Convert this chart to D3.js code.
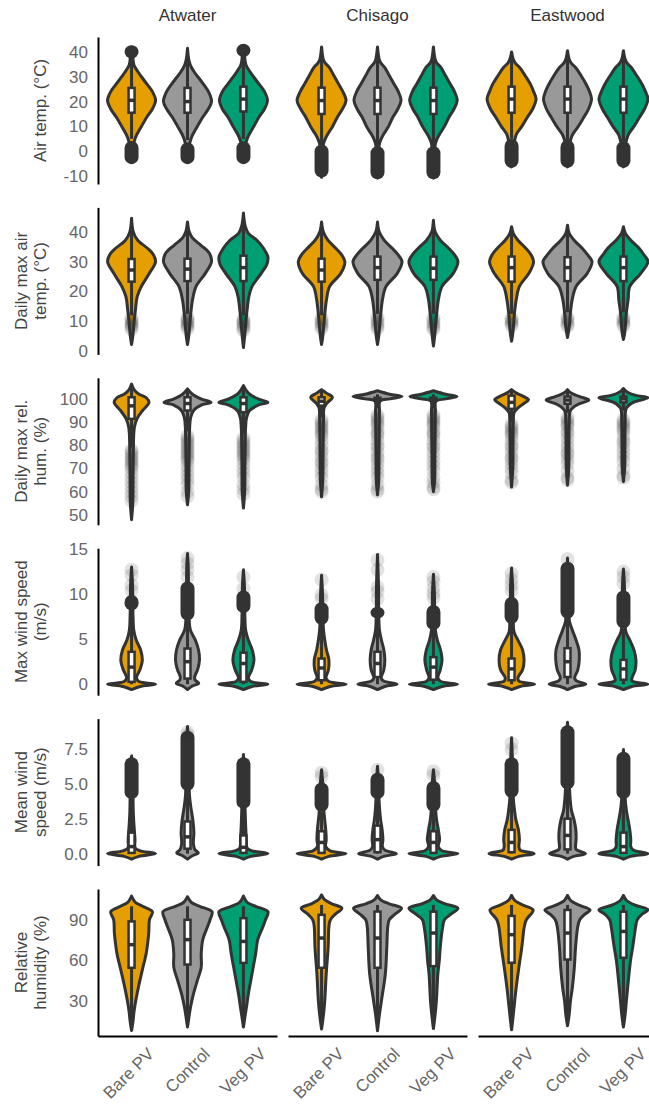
<!DOCTYPE html>
<html>
<head>
<meta charset="utf-8">
<script src="https://cdn.jsdelivr.net/npm/d3@7"></script>
<style>
  body { margin: 0; background: #fff; }
  svg { display: block; }
</style>
</head>
<body>
<svg id="chart" width="649" height="1106"></svg>
<script>
// ---- data ----
const sites = ["Atwater", "Chisago", "Eastwood"];
const treatments = ["Bare PV", "Control", "Veg PV"];

const rowTitles = [
  ["Air temp. (°C)"],
  ["Daily max air", "temp. (°C)"],
  ["Daily max rel.", "hum. (%)"],
  ["Max wind speed", "(m/s)"],
  ["Mean wind", "speed (m/s)"],
  ["Relative", "humidity (%)"]
];
const rowDomains = [[-13.2, 46], [-1.1, 48.2], [45.7, 109.1], [-1.22, 15.1], [-0.86, 9.67], [4, 112.8]];
const rowTicks = [[-10, 0, 10, 20, 30, 40], [0, 10, 20, 30, 40], [50, 60, 70, 80, 90, 100],
                  [0, 5, 10, 15], [0, 2.5, 5, 7.5], [30, 60, 90]];
const rowDecimals = [0, 0, 0, 0, 1, 0];

// violin profiles: [value, relative width], order Atwater(B,C,V), Chisago(B,C,V), Eastwood(B,C,V)
const airTempViolins = [
  [[-4.5,0],[-2,0.05],[2,0.07],[5.5,0.16],[9.6,0.38],[13.7,0.62],[17,0.85],[20.5,0.98],[24,0.85],[27,0.63],[30,0.4],[32,0.26],[34.6,0.1],[37,0.06],[40,0.04],[42,0]],
  [[-4.5,0],[-2,0.05],[2,0.07],[5.5,0.16],[9.6,0.38],[13.7,0.62],[17,0.85],[20,0.98],[23.5,0.88],[27,0.65],[30,0.42],[32,0.27],[34.6,0.12],[37,0.05],[41.5,0]],
  [[-4.5,0],[-2,0.05],[2,0.07],[5.5,0.17],[9.6,0.4],[13.7,0.63],[17,0.86],[20.5,0.98],[24,0.86],[27,0.64],[30,0.41],[32,0.27],[34.6,0.11],[37,0.06],[40,0.04],[42.5,0]],
  [[-10.5,0],[-6,0.04],[0,0.05],[3,0.08],[5,0.15],[7,0.26],[10,0.45],[13.6,0.64],[17,0.85],[20.4,1],[24,0.87],[27,0.7],[30.5,0.5],[33.7,0.32],[35.5,0.15],[37,0.07],[42,0]],
  [[-10.8,0],[-6,0.04],[0,0.05],[3,0.08],[5,0.15],[7,0.26],[10,0.45],[13.6,0.62],[17,0.83],[20.4,0.96],[24,0.85],[27,0.68],[30.5,0.48],[33.7,0.3],[35.5,0.14],[37,0.07],[42,0]],
  [[-10.8,0],[-6,0.04],[0,0.05],[3,0.08],[5,0.15],[7,0.26],[10,0.45],[13.6,0.63],[17,0.84],[20.4,0.97],[24,0.86],[27,0.69],[30.5,0.49],[33.7,0.31],[35.5,0.14],[37,0.07],[42,0]],
  [[-6.3,0],[-3,0.05],[2,0.07],[5,0.14],[6.9,0.2],[10,0.42],[13.6,0.64],[17,0.86],[21,1],[24,0.9],[27,0.77],[30.5,0.55],[33.7,0.33],[35.5,0.15],[37,0.07],[40,0]],
  [[-6.3,0],[-3,0.05],[2,0.07],[5,0.14],[6.9,0.22],[10,0.44],[13.6,0.66],[17,0.86],[21,0.98],[24,0.9],[27,0.76],[30.5,0.55],[33.7,0.33],[35.5,0.15],[37,0.07],[40.5,0]],
  [[-6.3,0],[-3,0.05],[2,0.07],[5,0.14],[6.9,0.21],[10,0.43],[13.6,0.65],[17,0.86],[21,1],[24,0.9],[27,0.76],[30.5,0.54],[33.7,0.32],[35.5,0.15],[37,0.07],[40.5,0]]
];
// [lower whisker, q1, median, q3, upper whisker]
const airTempBoxes = [
  [5, 15.5, 20.5, 25.5, 36.5], [4.5, 15.5, 20, 25.5, 41.5], [5, 16, 21, 26, 37],
  [2.5, 15, 20.4, 25.6, 42], [2.3, 15, 20.4, 25.6, 42], [2, 15, 20.4, 25.6, 42],
  [5, 15.5, 21, 26, 40], [4.5, 15.5, 21, 26, 40.5], [4, 15.5, 21, 26, 40.5]
];
// value ranges densely covered by outliers
const airTempBands = [
  [[-5.2, 4.1], [37.4, 42.7]], [[-5.2, 3.5]], [[-5.2, 4], [38, 43.3]],
  [[-10.6, 2.7]], [[-11.3, 2]], [[-11.3, 2]],
  [[-6.7, 4.9]], [[-6.7, 4.5]], [[-6.7, 4]]
];
const airTempPoints = [[], [], [], [], [], [], [], [], []];

const maxAirViolins = [
  [[2.2,0],[5,0.05],[9.6,0.1],[13.9,0.16],[18.3,0.23],[21.7,0.4],[26,0.72],[30,0.98],[32.5,0.88],[34.5,0.65],[37.2,0.25],[40,0.07],[44.6,0]],
  [[2.2,0],[5,0.05],[9.6,0.1],[13.9,0.15],[17,0.2],[21.7,0.35],[26,0.72],[30,0.98],[33,0.88],[35.5,0.55],[38,0.2],[40,0.07],[43.3,0]],
  [[1.2,0],[5,0.05],[9.6,0.1],[13.9,0.15],[18.3,0.22],[21.7,0.35],[26,0.72],[29,0.95],[31.5,1],[34.5,0.82],[37.2,0.55],[39.5,0.2],[42,0.07],[46.3,0]],
  [[2.2,0],[5,0.05],[9.6,0.1],[13.9,0.15],[17.2,0.2],[21.7,0.33],[26,0.78],[30,0.95],[32.5,0.8],[34.5,0.58],[37.2,0.26],[40,0.07],[43.3,0]],
  [[2.2,0],[5,0.05],[9.6,0.1],[13.9,0.15],[17.2,0.2],[21.7,0.35],[26,0.8],[30,1],[32.5,0.82],[34.5,0.6],[37.2,0.27],[40,0.07],[43.3,0]],
  [[1.7,0],[5,0.05],[9.6,0.1],[13.9,0.15],[17.2,0.2],[21.7,0.35],[26,0.8],[30,1],[32.5,0.84],[34.5,0.62],[37.2,0.28],[40,0.07],[43.9,0]],
  [[3.3,0],[6,0.05],[9.6,0.09],[12.9,0.12],[17.2,0.19],[21.7,0.32],[26,0.7],[30,0.9],[32.5,0.78],[34.5,0.58],[37.2,0.26],[39.5,0.07],[41.7,0]],
  [[4.6,0],[7,0.05],[9.6,0.09],[12.9,0.12],[17.2,0.19],[21.7,0.35],[26,0.8],[30,1],[32.5,0.8],[34.5,0.6],[37.2,0.27],[39.5,0.07],[42.2,0]],
  [[3.9,0],[6,0.05],[9.6,0.09],[12.9,0.12],[17.2,0.19],[21.7,0.26],[26,0.7],[30,1],[32.5,0.82],[34.5,0.64],[37.2,0.3],[39.5,0.08],[41.7,0]]
];
const maxAirBoxes = [
  [12, 23.3, 27.2, 30.9, 42], [12.5, 23.5, 27.5, 31, 42.5], [12, 23.5, 28, 32, 45],
  [12, 23.3, 27.2, 31, 43], [12.5, 23.9, 28, 31.7, 43], [12.5, 23.9, 27.8, 31.7, 43.5],
  [12.5, 23.3, 28, 31.7, 41.7], [13, 23.5, 28, 31.5, 42.2], [13, 23.5, 28, 31.7, 41.7]
];
const maxAirBands = [[], [], [], [], [], [], [], [], []];
const maxAirPoints = [
  [7.3, 8, 8.6, 9.2, 9.8, 10.4, 11], [7.5, 8.2, 8.8, 9.4, 10, 10.6, 11.2], [7, 7.7, 8.3, 9, 9.6, 10.2, 10.8],
  [7.5, 8.3, 9, 9.7, 10.4, 11.2], [7.5, 8.2, 9, 9.8, 10.6, 11.4], [7.3, 8, 8.8, 9.6, 10.4, 11.2],
  [8.5, 9.2, 9.8, 10.4, 11], [8.3, 9, 9.8, 10.6, 11.3], [8.5, 9.2, 9.9, 10.6, 11.3]
];

const maxRhViolins = [
  [[47.9,0],[55,0.05],[65,0.06],[75,0.07],[85,0.09],[88,0.12],[91.4,0.22],[95,0.45],[98.5,0.71],[100.5,0.6],[102.1,0.29],[104,0.1],[106.4,0]],
  [[54.3,0],[60,0.05],[70,0.06],[80,0.07],[88,0.09],[92,0.13],[95,0.25],[97.5,0.6],[98.5,0.96],[100,0.55],[102,0.2],[104.3,0]],
  [[52.9,0],[60,0.05],[70,0.06],[80,0.07],[88,0.09],[92,0.13],[95,0.25],[97.5,0.65],[98.5,1],[100,0.6],[102.5,0.2],[105.7,0]],
  [[57.8,0],[65,0.05],[75,0.06],[85,0.07],[92,0.08],[96,0.1],[98,0.2],[100.7,0.44],[102.5,0.2],[104,0]],
  [[58.6,0],[65,0.05],[75,0.06],[85,0.07],[95,0.08],[99,0.1],[100,0.5],[101,1],[102,0.5],[103.5,0]],
  [[60,0],[65,0.05],[75,0.06],[85,0.07],[95,0.08],[99,0.1],[100,0.5],[101,0.96],[102,0.5],[103.5,0]],
  [[62,0],[70,0.05],[80,0.06],[90,0.07],[94,0.1],[96,0.25],[98,0.5],[99.6,0.69],[101,0.5],[102.5,0.2],[104,0]],
  [[62.8,0],[70,0.05],[80,0.06],[90,0.07],[95,0.12],[97.5,0.4],[99.5,0.87],[101,0.5],[102.5,0.15],[104,0]],
  [[64.3,0],[70,0.05],[80,0.06],[90,0.07],[96,0.12],[98.5,0.4],[100.5,1],[101.5,0.5],[103,0.15],[104.5,0]]
];
const maxRhBoxes = [
  [79, 91.4, 97, 100.7, 106], [86, 95, 98, 100.7, 104], [85, 94.3, 98, 100.7, 105],
  [92, 97.1, 99, 100.7, 104], [96, 99.3, 100, 100.5, 102], [96, 99.3, 100, 100.5, 102],
  [90, 95.7, 98.5, 101.4, 104], [94, 97.9, 99.5, 101, 104], [95, 98.5, 100, 101, 104.5]
];
const maxRhBands = [[], [], [], [], [], [], [], [], []];
const maxRhPoints = [
  [56, 58, 60, 62, 64, 66, 68, 70, 71, 72, 73, 74, 75, 76, 77, 78],
  [58, 60, 63, 65, 67, 69, 71, 73, 74, 75, 76, 77, 78, 79, 80, 81, 82, 83, 84],
  [59, 61, 63, 66, 68, 70, 72, 74, 75, 76, 77, 78, 79, 80, 81, 82, 83],
  [60, 61, 63, 66, 68, 70, 72, 73, 75, 77, 78, 80, 82, 84, 85, 86, 87, 88, 89, 90, 91],
  [60, 61, 63, 66, 68, 70, 72, 74, 75, 77, 79, 80, 82, 84, 85, 86, 88, 89, 90, 91, 92, 93],
  [61, 62, 64, 66, 69, 71, 73, 75, 77, 79, 80, 82, 84, 85, 86, 88, 89, 90, 91, 92, 93],
  [64, 65, 68, 70, 72, 74, 75, 77, 79, 80, 82, 84, 85, 86, 87, 88, 89],
  [65, 66, 69, 72, 74, 76, 77, 79, 81, 83, 85, 86, 88, 89, 90, 91, 92],
  [66, 67, 70, 73, 75, 77, 79, 81, 82, 84, 86, 87, 88, 89, 90, 91]
];

const maxWindViolins = [
  [[-0.6,0],[-0.25,0.35],[0,0.98],[0.3,0.3],[0.7,0.2],[1.6,0.34],[2.7,0.44],[3.8,0.37],[4.9,0.19],[6,0.09],[7.5,0.06],[9,0.05],[11,0.04],[13,0]],
  [[-0.6,0],[-0.2,0.2],[0.1,0.46],[0.5,0.3],[0.9,0.3],[1.6,0.41],[2.7,0.49],[3.8,0.45],[4.9,0.32],[6,0.12],[7,0.07],[9,0.05],[11,0.04],[13,0.03],[14.5,0]],
  [[-0.6,0],[-0.25,0.35],[0,1],[0.3,0.3],[0.7,0.2],[1.6,0.34],[2.7,0.43],[3.8,0.36],[4.9,0.2],[6,0.09],[7.5,0.06],[9,0.05],[11,0.04],[12.7,0]],
  [[-0.6,0],[-0.25,0.35],[0,1],[0.3,0.3],[0.7,0.18],[1.6,0.28],[2.7,0.3],[3.8,0.2],[4.9,0.13],[6,0.08],[8,0.05],[10,0.04],[12.1,0]],
  [[-0.6,0],[-0.25,0.3],[0,0.8],[0.35,0.25],[0.7,0.15],[1.6,0.26],[2.7,0.3],[3.8,0.26],[4.9,0.16],[6,0.08],[8,0.05],[11,0.04],[14.4,0]],
  [[-0.6,0],[-0.25,0.35],[0,0.98],[0.3,0.3],[0.7,0.18],[1.6,0.28],[2.7,0.35],[3.8,0.29],[4.9,0.16],[6,0.08],[8,0.05],[10,0.04],[12.2,0]],
  [[-0.6,0],[-0.25,0.35],[0,0.94],[0.35,0.3],[0.7,0.26],[1.6,0.45],[2.7,0.51],[3.8,0.45],[4.9,0.26],[5.8,0.1],[7,0.07],[9,0.05],[11,0.04],[12.9,0]],
  [[-0.6,0],[-0.25,0.3],[0,0.75],[0.4,0.35],[0.7,0.29],[1.6,0.42],[2.7,0.48],[3.8,0.47],[4.9,0.35],[6,0.2],[7,0.08],[9,0.06],[11,0.05],[14,0]],
  [[-0.6,0],[-0.25,0.35],[0,1],[0.35,0.35],[0.7,0.35],[1.6,0.48],[2.7,0.51],[3.8,0.43],[4.9,0.26],[5.8,0.1],[7,0.07],[9,0.05],[11,0.04],[12.8,0]]
];
const maxWindBoxes = [
  [0, 0.26, 1.9, 3.6, 8.2], [0, 0.63, 2.5, 3.96, 7.1], [0, 0.26, 2.3, 3.5, 7.9],
  [0, 0.44, 1.8, 2.85, 6.6], [0, 0.8, 2.3, 3.6, 7.3], [0, 0.5, 1.9, 3.0, 6],
  [0, 0.44, 1.7, 2.85, 6.7], [0, 0.8, 2.5, 4.0, 7.3], [0, 0.5, 1.7, 2.7, 6.2]
];
const maxWindBands = [
  [[8.2, 9.9]], [[7.1, 11.4]], [[7.9, 10.4]],
  [[6.6, 9.1]], [[7.3, 8.6]], [[6, 8.8]],
  [[6.7, 9.7]], [[7.3, 13.6]], [[6.2, 10.4]]
];
const maxWindPoints = [
  [10.4, 11, 12.1, 12.7], [11.9, 12.7, 13.4, 14], [10.6, 11.9],
  [9.5, 9.9, 11.6], [9.5, 10.3, 10.8, 12.7, 13.8], [9.6, 10.1, 10.7, 11.4, 11.9],
  [10.4, 11, 11.6, 12.3], [13.9], [11.2, 11.9, 12.5]
];

const meanWindViolins = [
  [[-0.4,0],[-0.2,0.3],[0,0.98],[0.2,0.35],[0.4,0.15],[1,0.14],[2,0.1],[3,0.07],[4,0.06],[5.5,0.05],[7,0]],
  [[-0.4,0],[-0.15,0.2],[0.05,0.44],[0.3,0.3],[0.7,0.24],[1.5,0.26],[2.4,0.22],[3.4,0.13],[4.2,0.08],[6,0.06],[8,0.04],[9.1,0]],
  [[-0.4,0],[-0.2,0.3],[0,1],[0.2,0.35],[0.4,0.15],[1,0.12],[2,0.09],[3,0.07],[4,0.06],[5.5,0.05],[7.1,0]],
  [[-0.4,0],[-0.2,0.3],[0,1],[0.2,0.35],[0.5,0.17],[1,0.19],[1.7,0.17],[2.4,0.13],[3.1,0.09],[4,0.06],[5,0.05],[6,0]],
  [[-0.4,0],[-0.2,0.25],[0,0.77],[0.25,0.3],[0.5,0.2],[1,0.22],[1.7,0.19],[2.4,0.13],[3.1,0.09],[4,0.06],[5,0.05],[6.25,0]],
  [[-0.4,0],[-0.2,0.3],[0,1],[0.2,0.35],[0.5,0.2],[1,0.25],[1.7,0.2],[2.4,0.13],[3.1,0.09],[4,0.06],[5,0.05],[6,0]],
  [[-0.4,0],[-0.2,0.3],[0,0.92],[0.25,0.35],[0.5,0.3],[1,0.32],[1.7,0.28],[2.4,0.18],[3.1,0.12],[4,0.07],[6,0.05],[8.3,0]],
  [[-0.4,0],[-0.2,0.25],[0,0.73],[0.3,0.35],[0.6,0.33],[1,0.35],[1.7,0.34],[2.4,0.27],[3.1,0.16],[4.1,0.1],[6,0.06],[8,0.05],[9.4,0]],
  [[-0.4,0],[-0.2,0.3],[0,1],[0.25,0.4],[0.5,0.3],[1,0.3],[1.7,0.26],[2.4,0.19],[3.1,0.12],[4,0.07],[6,0.05],[7.45,0]]
];
const meanWindBoxes = [
  [0, 0.05, 0.5, 1.5, 3.8], [0, 0.35, 1.2, 2.3, 4.5], [0, 0.05, 0.45, 1.3, 3.2],
  [0, 0.05, 0.8, 1.6, 3.0], [0, 0.1, 1.0, 2.0, 3.8], [0, 0.05, 0.8, 1.6, 3.0],
  [0, 0.1, 0.8, 1.7, 4.0], [0, 0.3, 1.3, 2.5, 4.6], [0, 0.05, 0.5, 1.5, 3.9]
];
const meanWindBands = [
  [[3.9, 6.9]], [[4.5, 8.8]], [[3.2, 6.9]],
  [[3.0, 5.1]], [[3.9, 5.8]], [[3.0, 5.2]],
  [[4.0, 6.9]], [[4.6, 9.2]], [[3.9, 7.3]]
];
const meanWindPoints = [
  [], [8.5, 8.7], [],
  [5.5, 5.8], [6.0], [5.6, 5.9],
  [7.45, 7.9], [], []
];

const rhViolins = [
  [[8,0],[15,0.06],[22,0.1],[29,0.16],[41,0.29],[53,0.44],[65.5,0.6],[80,0.7],[90,0.73],[96,0.85],[100,0.45],[103,0.15],[107.6,0]],
  [[10.6,0],[18,0.06],[25,0.12],[35,0.24],[45,0.4],[55,0.56],[65,0.56],[75,0.62],[85,0.82],[90,0.92],[96,1],[100,0.5],[103,0.15],[107.1,0]],
  [[10.6,0],[18,0.06],[25,0.12],[35,0.2],[45,0.3],[55,0.4],[65,0.5],[75,0.58],[85,0.8],[90,0.9],[96,1],[100,0.5],[103,0.15],[107.6,0]],
  [[9.2,0],[20,0.08],[30,0.13],[50,0.19],[70,0.27],[85,0.3],[90,0.36],[94,0.55],[98.6,0.83],[102,0.4],[105,0.12],[108.4,0]],
  [[7.9,0],[20,0.08],[30,0.16],[50,0.32],[70,0.38],[85,0.42],[90,0.48],[94,0.7],[98.6,0.98],[102,0.45],[105,0.12],[108,0]],
  [[9.5,0],[20,0.07],[30,0.12],[50,0.18],[60,0.24],[70,0.28],[85,0.38],[90,0.45],[94,0.7],[98.6,1],[102,0.45],[105,0.12],[108,0]],
  [[8.6,0],[18,0.06],[25,0.1],[40,0.19],[55,0.3],[70,0.42],[85,0.52],[90,0.6],[97.3,0.88],[101,0.45],[104.5,0.12],[108,0]],
  [[11.6,0],[20,0.07],[30,0.12],[40,0.2],[55,0.28],[70,0.33],[85,0.42],[90,0.5],[94,0.7],[97.3,0.92],[101,0.45],[104.5,0.12],[108,0]],
  [[10.6,0],[20,0.07],[30,0.12],[45,0.2],[60,0.29],[70,0.38],[85,0.5],[90,0.56],[94,0.75],[97.5,1],[101,0.45],[104.5,0.12],[108,0]]
];
const rhBoxes = [
  [8, 54.5, 71.6, 88.8, 100], [10.6, 56.9, 75.3, 90, 100], [10.6, 58.1, 74, 91.2, 100],
  [9.2, 54.5, 76.5, 93.7, 101], [7.9, 54.5, 76.5, 96.1, 101], [9.5, 55.7, 80.2, 96, 101],
  [8.6, 58.2, 79, 92.9, 101], [11.6, 60.6, 80.2, 97.3, 101], [10.6, 61.9, 81.4, 96, 101]
];
const rhBands = [[], [], [], [], [], [], [], [], []];
const rhPoints = [[], [], [], [], [], [], [], [], []];

// ---- layout ----
const svg = d3.select("#chart");
const font = "'Liberation Sans', Arial, Helvetica, sans-serif";
const fills = ["#E69F00", "#999999", "#009E73"];
const dark = "#333333";
const panelLeft = 98, panelStep = 190, panelW = 179;
const rowTop0 = 37, rowStep = 170.4, rowH = 147;
const ptR = 7;
const lineW = 3;

const wScale = d3.scaleLinear().domain([0, 1]).range([0, 24.5]);

const rowSets = [
  [airTempViolins, airTempBoxes, airTempBands, airTempPoints],
  [maxAirViolins, maxAirBoxes, maxAirBands, maxAirPoints],
  [maxRhViolins, maxRhBoxes, maxRhBands, maxRhPoints],
  [maxWindViolins, maxWindBoxes, maxWindBands, maxWindPoints],
  [meanWindViolins, meanWindBoxes, meanWindBands, meanWindPoints],
  [rhViolins, rhBoxes, rhBands, rhPoints]
];

// facet headers
sites.forEach((site, s) => {
  svg.append("text")
    .attr("x", panelLeft + s * panelStep + panelW / 2)
    .attr("y", 21)
    .attr("text-anchor", "middle")
    .attr("font-family", font)
    .attr("font-size", 17)
    .attr("fill", "#333")
    .text(site);
});

rowSets.forEach(([violins, boxes, bands, points], r) => {
  const top = rowTop0 + r * rowStep;
  const y = d3.scaleLinear().domain(rowDomains[r]).range([top + rowH, top]);

  // y axis (first column only)
  const ax = svg.append("g")
    .attr("transform", `translate(${panelLeft},0)`)
    .call(d3.axisLeft(y)
      .tickValues(rowTicks[r])
      .tickFormat(d => d.toFixed(rowDecimals[r]))
      .tickSize(0)
      .tickSizeOuter(0)
      .tickPadding(10))
    .attr("font-family", font)
    .attr("font-size", 17);
  ax.select(".domain").attr("stroke", "#000").attr("stroke-width", 2);
  ax.selectAll(".tick text").attr("fill", "#666");

  // y title
  const lines = rowTitles[r];
  lines.forEach((line, i) => {
    const bx = 46 - (lines.length - 1 - i) * 19;
    svg.append("text")
      .attr("transform", `translate(${bx},${top + rowH / 2}) rotate(-90)`)
      .attr("text-anchor", "middle")
      .attr("font-family", font)
      .attr("font-size", 17)
      .attr("fill", "#444")
      .text(line);
  });

  sites.forEach((site, s) => {
    const px = panelLeft + s * panelStep;
    const x = d3.scalePoint().domain(treatments).range([px, px + panelW]).padding(0.6);

    treatments.forEach((t, k) => {
      const i = s * 3 + k;
      const cx = x(t);
      const g = svg.append("g");

      const area = d3.area()
        .y(d => y(d[0]))
        .x0(d => cx - wScale(d[1]))
        .x1(d => cx + wScale(d[1]))
        .curve(d3.curveCatmullRom);

      g.append("path")
        .datum(violins[i])
        .attr("d", area)
        .attr("fill", fills[k])
        .attr("stroke", dark)
        .attr("stroke-width", lineW)
        .attr("stroke-linejoin", "round");

      // outliers
      g.selectAll("rect.band")
        .data(bands[i])
        .join("rect")
        .attr("class", "band")
        .attr("x", cx - ptR)
        .attr("width", ptR * 2)
        .attr("y", d => y(d[1]))
        .attr("height", d => y(d[0]) - y(d[1]))
        .attr("rx", ptR)
        .attr("fill", dark);

      g.selectAll("circle")
        .data(points[i])
        .join("circle")
        .attr("cx", cx)
        .attr("cy", d => y(d))
        .attr("r", ptR)
        .attr("fill", dark)
        .attr("fill-opacity", 0.14);

      // box
      const [lo, q1, med, q3, hi] = boxes[i];
      g.append("line").attr("x1", cx).attr("x2", cx).attr("y1", y(lo)).attr("y2", y(q1))
        .attr("stroke", dark).attr("stroke-width", lineW);
      g.append("line").attr("x1", cx).attr("x2", cx).attr("y1", y(q3)).attr("y2", y(hi))
        .attr("stroke", dark).attr("stroke-width", lineW);
      g.append("rect")
        .attr("x", cx - 3)
        .attr("width", 6)
        .attr("y", y(q3))
        .attr("height", Math.max(0.5, y(q1) - y(q3)))
        .attr("fill", "#fff")
        .attr("stroke", dark)
        .attr("stroke-width", 2.5);
      g.append("line").attr("x1", cx - 3).attr("x2", cx + 3).attr("y1", y(med)).attr("y2", y(med))
        .attr("stroke", dark).attr("stroke-width", 3.5);
    });

    // bottom axis on the last row
    if (r === rowSets.length - 1) {
      const bx = svg.append("g")
        .attr("transform", `translate(0,${top + rowH})`)
        .call(d3.axisBottom(x).tickSize(0).tickSizeOuter(0))
        .attr("font-family", font)
        .attr("font-size", 17);
      bx.select(".domain").attr("stroke", "#000").attr("stroke-width", 2);
      bx.selectAll(".tick text")
        .attr("fill", "#666")
        .attr("x", 0).attr("y", 0).attr("dy", 0)
        .attr("text-anchor", "end")
        .attr("transform", "translate(23,19) rotate(-45)");
    }
  });
});
</script>
</body>
</html>
